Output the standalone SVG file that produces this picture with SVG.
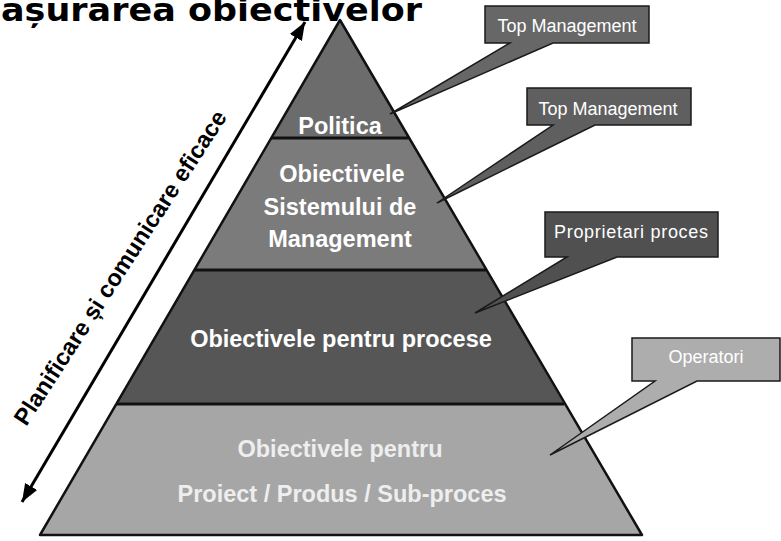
<svg xmlns="http://www.w3.org/2000/svg" width="781" height="541" viewBox="0 0 781 541">
  <defs>
    <marker id="arrowHead" markerUnits="userSpaceOnUse" markerWidth="20" markerHeight="16" viewBox="0 0 20 16" refX="18" refY="8" orient="auto-start-reverse">
      <path d="M0,1 L18,8 L0,15 Z" fill="#000"/>
    </marker>
    <style>
      .band { stroke: none; }
      .edge { fill: none; stroke: #111; stroke-width: 2.5; stroke-linejoin: round; }
      .sep { stroke: #111; stroke-width: 3; }
      .lvl { font-family: "Liberation Sans", Arial, sans-serif; font-weight: bold; font-size: 23.5px; fill: #fff; text-anchor: middle; }
      .lvl.soft { fill: #eeeeee; }
      .callout { stroke: #1a1a1a; stroke-width: 1.5; stroke-linejoin: miter; }
      .ctext { font-family: "Liberation Sans", Arial, sans-serif; font-size: 18px; fill: #fff; text-anchor: middle; }
      .side { font-family: "Liberation Sans", Arial, sans-serif; font-weight: bold; font-size: 23.5px; fill: #000; text-anchor: middle; }
      .title { font-family: "DejaVu Sans", Verdana, sans-serif; font-weight: bold; font-size: 32px; fill: #000; }
    </style>
  </defs>

  <rect width="781" height="541" fill="#fff"/>

  <!-- heading, clipped at the top-left edge -->
  <text class="title" x="1" y="21" textLength="421" lengthAdjust="spacingAndGlyphs">așurarea obiectivelor</text>

  <!-- pyramid levels -->
  <g id="level-politica">
    <polygon class="band" points="340,20 408.7,138 271.3,138" fill="#6c6c6c"/>
    <text class="lvl" x="340" y="134">Politica</text>
  </g>
  <g id="level-sistem">
    <polygon class="band" points="271.3,138 408.7,138 486,270 194,270" fill="#7b7b7b"/>
    <text class="lvl" x="342" y="182">Obiectivele</text>
    <text class="lvl" x="340" y="215">Sistemului de</text>
    <text class="lvl" x="340" y="247">Management</text>
  </g>
  <g id="level-procese">
    <polygon class="band" points="194,270 486,270 564,404 116,404" fill="#565656"/>
    <text class="lvl" x="341" y="347">Obiectivele pentru procese</text>
  </g>
  <g id="level-proiect">
    <polygon class="band" points="116,404 564,404 642,535 40,535" fill="#a6a6a6"/>
    <text class="lvl soft" x="340" y="457">Obiectivele pentru</text>
    <text class="lvl soft" x="342" y="502">Proiect / Produs / Sub-proces</text>
  </g>
  <g id="pyramid-outline">
    <polygon class="edge" points="340,20 642,535 40,535"/>
    <line class="sep" x1="271.3" y1="138" x2="408.7" y2="138"/>
    <line class="sep" x1="194" y1="270" x2="486" y2="270"/>
    <line class="sep" x1="116" y1="404" x2="564" y2="404"/>
  </g>

  <!-- callouts pointing into the levels -->
  <g id="callout-top-1">
    <path class="callout" d="M485,6 H649 V43 H553 L390,114 L510,43 H485 Z" fill="#676767"/>
    <text class="ctext" x="567" y="32">Top Management</text>
  </g>
  <g id="callout-top-2">
    <path class="callout" d="M527,88 H691 V125 H595 L437,203 L553,125 H527 Z" fill="#5f5f5f"/>
    <text class="ctext" x="608" y="115">Top Management</text>
  </g>
  <g id="callout-proprietari">
    <path class="callout" d="M545,212 H718 V257 H617 L475,313 L567,257 H545 Z" fill="#505050"/>
    <text class="ctext" x="631" y="238" textLength="154" lengthAdjust="spacing">Proprietari proces</text>
  </g>
  <g id="callout-operatori">
    <path class="callout" d="M632,338 H780 V381 H697 L550,455 L655,381 H632 Z" fill="#adadad"/>
    <text class="ctext" x="706" y="363" fill="#eeeeee">Operatori</text>
  </g>

  <!-- two-way arrow along the left flank -->
  <g id="connectors">
    <line x1="22" y1="502" x2="305" y2="22" stroke="#000" stroke-width="3" marker-start="url(#arrowHead)" marker-end="url(#arrowHead)"/>
  </g>
  <g id="side-label">
    <text class="side" transform="translate(127,272) rotate(-57)">Planificare și comunicare eficace</text>
  </g>
</svg>
